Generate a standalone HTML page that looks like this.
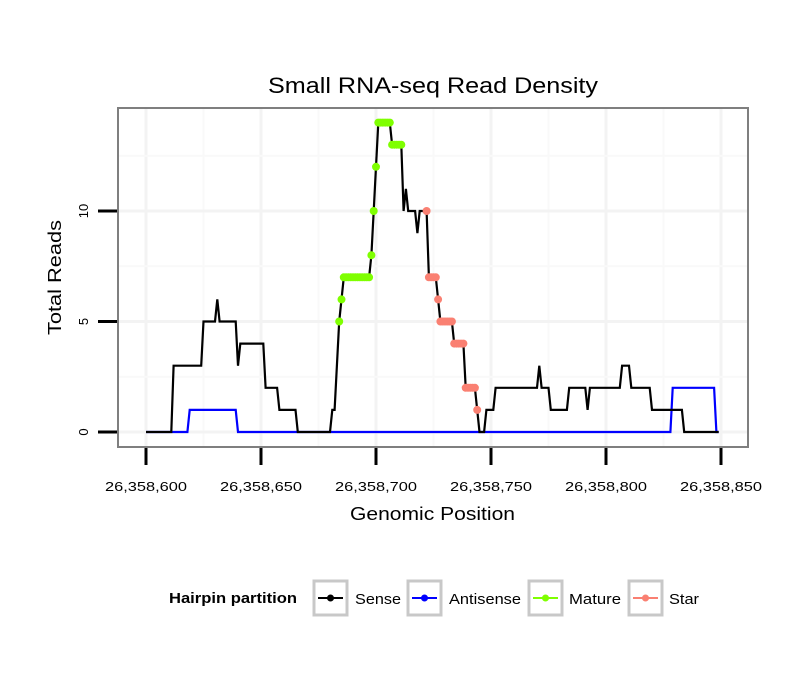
<!DOCTYPE html>
<html><head><meta charset="utf-8"><style>
body{margin:0;background:#fff;}
svg{display:block;font-family:"Liberation Sans",sans-serif;}
</style></head><body>
<svg id="chart" width="810" height="690" viewBox="0 0 810 690">
<text x="268" y="93" font-size="22" textLength="330" lengthAdjust="spacingAndGlyphs">Small RNA-seq Read Density</text>
<rect x="118" y="108" width="630" height="339" fill="#fff"/>
<g id="grid"></g>
<g id="series"></g>
<rect x="118" y="108" width="630" height="339" fill="none" stroke="#7f7f7f" stroke-width="2"/>
<g id="axes"></g>
<text x="350" y="520" font-size="18" textLength="165" lengthAdjust="spacingAndGlyphs">Genomic Position</text>
<text transform="translate(61,335) rotate(-90)" font-size="18" textLength="115" lengthAdjust="spacingAndGlyphs">Total Reads</text>
<g>
<text x="169" y="603" font-size="14.5" font-weight="bold" textLength="128" lengthAdjust="spacingAndGlyphs">Hairpin partition</text>
<g>
<rect x="314" y="581" width="33" height="34" fill="#fff" stroke="#c8c8c8" stroke-width="3"/>
<line x1="318" y1="598" x2="343" y2="598" stroke="#000" stroke-width="2"/><circle cx="330.5" cy="598" r="3.5" fill="#000"/>
<text x="355" y="604" font-size="15" textLength="46" lengthAdjust="spacingAndGlyphs">Sense</text></g>
<g>
<rect x="408" y="581" width="33" height="34" fill="#fff" stroke="#c8c8c8" stroke-width="3"/>
<line x1="412" y1="598" x2="437" y2="598" stroke="#0000ff" stroke-width="2"/><circle cx="424.5" cy="598" r="3.5" fill="#0000ff"/>
<text x="449" y="604" font-size="15" textLength="72" lengthAdjust="spacingAndGlyphs">Antisense</text></g>
<g>
<rect x="529" y="581" width="33" height="34" fill="#fff" stroke="#c8c8c8" stroke-width="3"/>
<line x1="533" y1="598" x2="558" y2="598" stroke="#7fff00" stroke-width="2"/><circle cx="545.5" cy="598" r="3.5" fill="#7fff00"/>
<text x="569" y="604" font-size="15" textLength="52" lengthAdjust="spacingAndGlyphs">Mature</text></g>
<g>
<rect x="629" y="581" width="33" height="34" fill="#fff" stroke="#c8c8c8" stroke-width="3"/>
<line x1="633" y1="598" x2="658" y2="598" stroke="#fa8072" stroke-width="2"/><circle cx="645.5" cy="598" r="3.5" fill="#fa8072"/>
<text x="669" y="604" font-size="15" textLength="30" lengthAdjust="spacingAndGlyphs">Star</text></g>
</g>
</svg>
<script>
const xTicks = [600, 650, 700, 750, 800, 850];
const xTickLabels = ["26,358,600","26,358,650","26,358,700","26,358,750","26,358,800","26,358,850"];
const yTicks = [0, 5, 10];
const yTickLabels = ["0","5","10"];
const sensePos = [600,611,612,624,625,630,631,632,639,640,641,651,652,657,658,665,666,680,681,682,684,685,686,697,698,699,700,701,706,707,711,712,713,714,717,718,719,722,723,726,727,728,733,734,738,739,743,744,745,747,748,751,752,770,771,772,775,776,783,784,791,792,793,806,807,810,811,819,820,833,834,849];
const senseVal = [0,0,3,3,5,5,6,5,5,3,4,4,2,2,1,1,0,0,1,1,5,6,7,7,8,10,12,14,14,13,13,10,11,10,10,9,10,10,7,7,6,5,5,4,4,2,2,1,0,0,1,1,2,2,3,2,2,1,1,2,2,1,2,2,3,3,2,2,1,1,0,0];
const antiPos = [600,618,619,639,640,828,829,847,848,849];
const antiVal = [0,0,1,1,0,0,2,2,0,0];
const matureRange = [684, 711];
const starRange = [722, 744];

const NS="http://www.w3.org/2000/svg";
const X0=146, XS=2.3, Y0=432, YS=22.1;
function xs(p){return X0+(p-600)*XS;}
function ys(v){return Y0-v*YS;}
function mk(tag,attrs,parent){const e=document.createElementNS(NS,tag);for(const k in attrs)e.setAttribute(k,attrs[k]);parent.appendChild(e);return e;}
const grid=document.getElementById('grid'), series=document.getElementById('series'), axes=document.getElementById('axes');
for(let i=0;i<xTicks.length;i++){
  for(const p of [xTicks[i], xTicks[i]+25]){
    const x=xs(p); if(x<119||x>747) continue;
    const g=mk('line',{x1:x,x2:x,y1:109,y2:446,stroke:p===xTicks[i]?'#f3f3f3':'#f9f9f9','stroke-width':p===xTicks[i]?3:2},grid);
    
    
  }
}
for(const v of [0,2.5,5,7.5,10,12.5]){
  const y=ys(v);
  const g=mk('line',{x1:119,x2:747,y1:y,y2:y,stroke:(v%5===0)?'#f3f3f3':'#f9f9f9','stroke-width':(v%5===0)?3:2},grid);
  
  
}
xTicks.forEach((p,i)=>{
  const x=xs(p);
  const t=mk('line',{x1:x,x2:x,y1:448,y2:465,stroke:'#000','stroke-width':3},axes);
  
  
  const l=mk('text',{x:x-41,y:491,'font-size':13,textLength:82,lengthAdjust:'spacingAndGlyphs'},axes);
  l.textContent=xTickLabels[i];
  
  
});
yTicks.forEach((v,i)=>{
  const y=ys(v);
  const t=mk('line',{x1:98,x2:117,y1:y,y2:y,stroke:'#000','stroke-width':3},axes);
  
  
  const l=mk('text',{transform:`translate(88,${y}) rotate(-90)`,'font-size':13,'text-anchor':'middle'},axes);
  l.textContent=yTickLabels[i];
  
  
});
function path(pos,val){return pos.map((p,i)=>(i?'L':'M')+xs(p).toFixed(1)+','+ys(val[i]).toFixed(1)).join(' ');}
const a=mk('path',{d:path(antiPos,antiVal),fill:'none',stroke:'#0000ff','stroke-width':2.2},series);


const s=mk('path',{d:path(sensePos,senseVal),fill:'none',stroke:'#000','stroke-width':2.2},series);


function valAt(p){
  for(let i=0;i<sensePos.length-1;i++){
    if(p>=sensePos[i]&&p<=sensePos[i+1]){const t=(p-sensePos[i])/(sensePos[i+1]-sensePos[i]);return senseVal[i]+t*(senseVal[i+1]-senseVal[i]);}
  }
  return 0;
}
function dots(range,color,name){
  for(let p=range[0];p<=range[1];p++){
    const c=mk('circle',{cx:xs(p),cy:ys(valAt(p)),r:4,fill:color},series);
    
    
  }
}
dots(matureRange,'#7fff00','mature-point');
dots(starRange,'#fa8072','star-point');
</script>
</body></html>
